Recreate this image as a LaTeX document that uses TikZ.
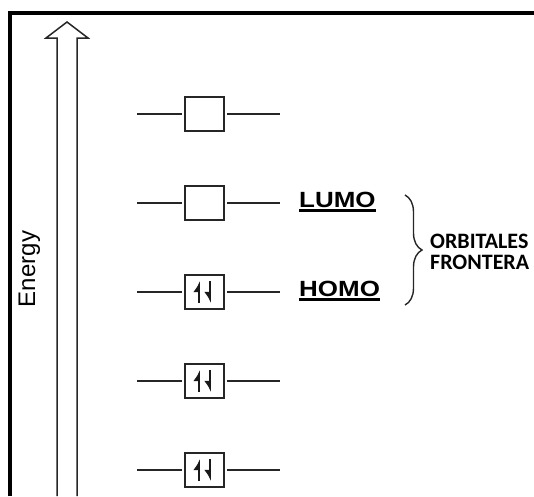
\documentclass[tikz,border=0pt]{standalone}
\usepackage{fontspec}
\setmainfont{Liberation Sans}
\newfontfamily\calibri{Carlito}
\usetikzlibrary{arrows.meta,decorations.pathreplacing}

% bold label with a heavy underline
\newcommand{\orbname}[1]{%
  \setbox0=\hbox{\scalebox{1.18}[1]{\bfseries\fontsize{22}{22}\selectfont #1}}%
  \rlap{\rule[-4.5pt]{\wd0}{2.4pt}}\box0}

\tikzset{
  orb/.style={draw=black!85, line width=1.3pt, minimum width=39pt, minimum height=34pt, inner sep=0pt},
  lvl/.style={draw=black!85, line width=1.3pt},
  spinup/.style={black!90, line width=2.4pt, -{Latex[harpoon,length=9pt,width=12pt]}},
  spindown/.style={black!90, line width=2.4pt, -{Latex[harpoon,swap,length=9pt,width=12pt]}},
}

\begin{document}
\begin{tikzpicture}[x=1pt,y=-1pt]
\useasboundingbox (0,0) rectangle (534,496);
% frame
\draw[line width=4pt] (9.5,496) -- (9.5,12.5) -- (534,12.5);
% energy axis
\draw[black!85, line width=1.5pt, line join=miter] (57,496) -- (57,38) -- (46,38) -- (67,22) -- (88,38) -- (77,38) -- (77,496);
\node[rotate=90, anchor=base, font=\fontsize{24}{24}\selectfont, inner sep=0pt] (energy) at (35,269) {Energy};

% orbital levels
\foreach \n/\y/\e in {1/114/0, 2/203/0, 3/292/1, 4/381/1, 5/470/1}
{
	\node[orb] (orb\n) at (204.5,\y) {};
	\coordinate (l\n) at (137,\y);
	\coordinate (r\n) at (280,\y);
	\draw[lvl, shorten >=2.5pt] (l\n) -- (orb\n);
	\draw[lvl, shorten <=2.5pt] (orb\n) -- (r\n);
	\ifnum\e=1
		\draw[spinup] ([xshift=-5.5pt,yshift=-11pt]orb\n.center) -- ([xshift=-5.5pt,yshift=11pt]orb\n.center);
		\draw[spindown] ([xshift=5.5pt,yshift=11pt]orb\n.center) -- ([xshift=5.5pt,yshift=-11pt]orb\n.center);
	\fi
}

\node[anchor=base west, inner sep=0pt] (lumo) at (299,207) {\orbname{LUMO}};
\node[anchor=base west, inner sep=0pt] (homo) at (299,296) {\orbname{HOMO}};

% frontier orbitals
\draw[black!85, line width=1.4pt, decorate, decoration={brace, amplitude=17pt}] (405,195) -- (405,305);
\node[anchor=north west, inner sep=0pt, align=left, font=\calibri\bfseries\fontsize{22}{21}\selectfont] (front) at (430,234) {ORBITALES\\FRONTERA};
\end{tikzpicture}
\end{document}
